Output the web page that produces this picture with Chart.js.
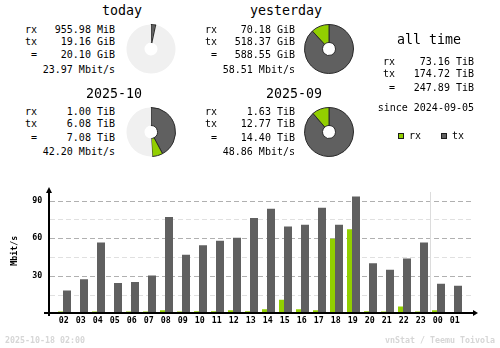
<!DOCTYPE html>
<html>
<head>
<meta charset="utf-8">
<title>vnStat summary</title>
<script src="https://cdn.jsdelivr.net/npm/chart.js@4/dist/chart.umd.min.js"></script>
<style>
  body { margin: 0; background: #fff; }
  #page { position: relative; width: 500px; height: 348px; overflow: hidden; font-family: 'DejaVu Sans Mono', monospace; color: #000; }
  .txt { position: absolute; white-space: pre; width: 200px; }
  .pie { position: absolute; }
  #hourly { position: absolute; left: 0; top: 170px; }
  .key { position: absolute; width: 4px; height: 4px; border: 1px solid #1c1c1c; }
</style>
</head>
<body>
<div id="page">
  <canvas id="hourly" width="500" height="178"></canvas>
</div>
<script>
// hourly average rate, Mbit/s
const hours = ['02', '03', '04', '05', '06', '07', '08', '09', '10', '11', '12', '13',
               '14', '15', '16', '17', '18', '19', '20', '21', '22', '23', '00', '01'];
const rxRate = [1.5, 0, 1.5, 0, 1.5, 1.5, 2.5, 1.5, 1.75, 1.75, 2.5, 1.75,
                3.25, 10.75, 3.25, 2.5, 59.5, 67, 1.75, 1.5, 5.5, 1.5, 2.5, 0];
const txRate = [18.25, 27.25, 56.5, 24.25, 25, 30.25, 76.75, 46.75, 54.25, 58, 60.25, 76,
                83.5, 69.25, 70.75, 84.25, 70.75, 93.25, 40, 34.75, 43.75, 56.5, 23.5, 22];
const yTickLabels = [30, 60, 90];

// period summaries
const periodNames = ['today', 'yesterday', '2025-10', '2025-09'];
const periodRx = ['955.98 MiB', '70.18 GiB', '1.00 TiB', '1.63 TiB'];
const periodTx = ['19.16 GiB', '518.37 GiB', '6.08 TiB', '12.77 TiB'];
const periodTotal = ['20.10 GiB', '588.55 GiB', '7.08 TiB', '14.40 TiB'];
const periodRate = ['23.97 Mbit/s', '58.51 Mbit/s', '42.20 Mbit/s', '48.86 Mbit/s'];
// pie slices in the period's own unit: tx, rx, still open
const pieTx = [19.16, 518.37, 6.08, 12.77];
const pieRx = [0.93, 70.18, 1.00, 1.63];
const pieOpen = [568.45, 0, 7.32, 0];

const allTimeLabels = ['rx', 'tx', '='];
const allTimeValues = ['73.16 TiB', '174.72 TiB', '247.89 TiB'];
const sinceText = 'since 2024-09-05';
const footerLeft = '2025-10-18 02:00';
const footerRight = 'vnStat / Teemu Toivola';

const RX = '#92cf00';
const TX = '#606060';

const page = document.getElementById('page');

function addText(text, x, y, align, font, lineH, color) {
  const d = document.createElement('div');
  d.className = 'txt';
  d.textContent = text;
  d.style.font = font;
  d.style.lineHeight = lineH + 'px';
  d.style.top = (y - lineH / 2) + 'px';
  d.style.textAlign = align;
  if (align === 'right') d.style.left = (x - 200) + 'px';
  else if (align === 'center') d.style.left = (x - 100) + 'px';
  else d.style.left = x + 'px';
  if (color) d.style.color = color;
  page.appendChild(d);
}

const bodyFont = '10px "DejaVu Sans Mono"';
const titleFont = '13.3px "DejaVu Sans Mono"';
const tinyFont = 'bold 8.3px "DejaVu Sans Mono"';

// four period blocks, two columns
const blockPos = [[0, 11.7], [180, 11.7], [0, 94.2], [180, 94.2]];
const pieCenter = [[151, 49], [329, 49], [151, 132], [329, 132]];

periodNames.forEach((name, i) => {
  const [bx, by] = blockPos[i];
  addText(name, bx + 142, by - 0.5, 'right', titleFont, 16);
  addText('rx', bx + 37, by + 18, 'right', bodyFont, 12);
  addText('tx', bx + 37, by + 30.2, 'right', bodyFont, 12);
  addText('=', bx + 37, by + 43.5, 'right', bodyFont, 12);
  addText(periodRx[i], bx + 115, by + 18, 'right', bodyFont, 12);
  addText(periodTx[i], bx + 115, by + 30.2, 'right', bodyFont, 12);
  addText(periodTotal[i], bx + 115, by + 43.5, 'right', bodyFont, 12);
  addText(periodRate[i], bx + 115, by + 57.8, 'right', bodyFont, 12);

  const c = document.createElement('canvas');
  c.className = 'pie';
  c.width = 50;
  c.height = 50;
  c.style.left = (pieCenter[i][0] - 25) + 'px';
  c.style.top = (pieCenter[i][1] - 25) + 'px';
  page.appendChild(c);

  new Chart(c.getContext('2d'), {
    type: 'doughnut',
    data: {
      labels: ['tx', 'rx', ''],
      datasets: [{
        data: [pieTx[i], pieRx[i], pieOpen[i]],
        backgroundColor: [TX, RX, '#f0f0f0'],
        borderColor: ['#2a2a2a', '#2a2a2a', 'rgba(0,0,0,0)'],
        borderWidth: [1, 1, 0],
      }],
    },
    options: {
      responsive: false,
      animation: false,
      cutout: 6.5,
      events: [],
      plugins: { legend: { display: false }, tooltip: { enabled: false } },
    },
  });
});

// all time block
addText('all time', 429, 39.5, 'center', titleFont, 16);
const allTimeY = [62.3, 74.3, 87.7];
allTimeLabels.forEach((lbl, i) => {
  addText(lbl, 395, allTimeY[i], 'right', bodyFont, 12);
  addText(allTimeValues[i], 474, allTimeY[i], 'right', bodyFont, 12);
});
addText(sinceText, 474, 107.7, 'right', bodyFont, 12);

// legend keys
[[398, RX, 'rx'], [441, TX, 'tx']].forEach(([kx, col, lbl]) => {
  const k = document.createElement('div');
  k.className = 'key';
  k.style.left = kx + 'px';
  k.style.top = '133px';
  k.style.background = col;
  page.appendChild(k);
  addText(lbl, kx + 11, 136, 'left', bodyFont, 12);
});

// footer
addText(footerLeft, 5, 340, 'left', tinyFont, 10, '#d6d6d6');
addText(footerRight, 495, 340, 'right', tinyFont, 10, '#d6d6d6');

// hourly bar chart: grid, axes with arrows and the day change marker
const axisPlugin = {
  id: 'vnAxes',
  beforeDatasetsDraw(chart) {
    const { ctx, scales: { x, y } } = chart;
    ctx.save();
    ctx.lineWidth = 1;
    ctx.setLineDash([5, 3]);
    y.ticks.forEach(t => {
      if (t.value <= 0 || t.value > 90) return;
      const py = Math.round(y.getPixelForValue(t.value)) + 0.5;
      ctx.strokeStyle = yTickLabels.includes(t.value) ? '#b0b0b0' : '#e0e0e0';
      ctx.beginPath();
      ctx.moveTo(50, py);
      ctx.lineTo(473, py);
      ctx.stroke();
    });
    ctx.setLineDash([]);
    const di = hours.indexOf('00');
    const mx = Math.ceil((x.getPixelForValue(di - 1) + x.getPixelForValue(di)) / 2) + 0.5;
    ctx.strokeStyle = '#dcdcdc';
    ctx.beginPath();
    ctx.moveTo(mx, y.top + 4);
    ctx.lineTo(mx, y.getPixelForValue(0));
    ctx.stroke();
    ctx.restore();
  },
  afterDatasetsDraw(chart) {
    const { ctx, scales: { y } } = chart;
    const y0 = Math.round(y.getPixelForValue(0));
    ctx.save();
    ctx.fillStyle = '#000';
    ctx.fillRect(44, y0 - 1, 431, 2);
    ctx.fillRect(48, y.top + 3, 2, y0 - y.top);
    ctx.beginPath();
    ctx.moveTo(478, y0);
    ctx.lineTo(473, y0 - 3);
    ctx.lineTo(473, y0 + 3);
    ctx.closePath();
    ctx.fill();
    ctx.beginPath();
    ctx.moveTo(49, y.top - 1);
    ctx.lineTo(46, y.top + 5);
    ctx.lineTo(52, y.top + 5);
    ctx.closePath();
    ctx.fill();
    ctx.restore();
  },
};

new Chart(document.getElementById('hourly').getContext('2d'), {
  type: 'bar',
  data: {
    labels: hours,
    datasets: [
      { label: 'rx', data: rxRate, backgroundColor: RX, barPercentage: 5 / 6.5 },
      { label: 'tx', data: txRate, backgroundColor: TX, barPercentage: 8 / 6.5 },
    ],
  },
  options: {
    responsive: false,
    animation: false,
    events: [],
    categoryPercentage: 13 / 17,
    layout: { padding: { left: 0, right: 36.75, top: 10, bottom: 0 } },
    plugins: { legend: { display: false }, tooltip: { enabled: false } },
    scales: {
      x: {
        offset: true,
        grid: { display: false, drawTicks: false },
        border: { display: false },
        ticks: {
          autoSkip: false,
          maxRotation: 0,
          padding: 3,
          color: '#000',
          font: { family: 'DejaVu Sans Mono', size: 8.3, weight: 'bold' },
        },
        afterFit(scale) { scale.height = 34.67; },
      },
      y: {
        min: 0,
        max: 100,
        grid: { display: false, drawTicks: false },
        border: { display: false },
        ticks: {
          stepSize: 15,
          padding: 13,
          color: '#000',
          font: { family: 'DejaVu Sans Mono', size: 8.3, weight: 'bold' },
          callback: v => (yTickLabels.includes(v) ? String(v) : ''),
        },
        title: {
          display: true,
          text: 'Mbit/s',
          color: '#000',
          padding: { top: 9.5, bottom: 0 },
          font: { family: 'DejaVu Sans Mono', size: 8.3, weight: 'bold' },
        },
        afterFit(scale) { scale.width = 55.25; },
      },
    },
  },
  plugins: [axisPlugin],
});
</script>
</body>
</html>
